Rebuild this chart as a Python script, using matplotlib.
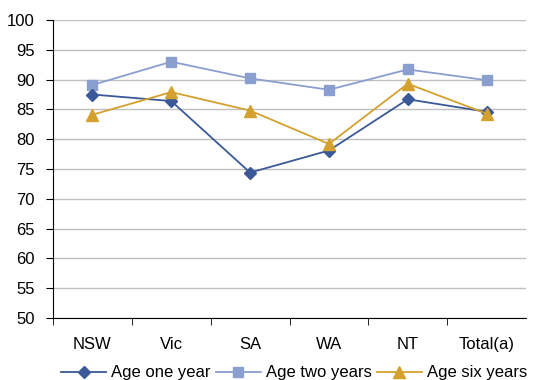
import matplotlib
matplotlib.use("Agg")
import matplotlib.pyplot as plt

categories = ["NSW", "Vic", "SA", "WA", "NT", "Total(a)"]
age_one = [87.5, 86.4, 74.4, 78.1, 86.7, 84.6]
age_two = [89.1, 93.0, 90.2, 88.3, 91.7, 89.9]
age_six = [84.1, 87.9, 84.8, 79.2, 89.3, 84.3]
yticks = [50, 55, 60, 65, 70, 75, 80, 85, 90, 95, 100]

plt.rcParams['font.family'] = ['Liberation Sans', 'DejaVu Sans']

fig = plt.figure(figsize=(5.33, 3.8), dpi=100)
ax = fig.add_axes([53/533, 1-318/380, (526-53)/533, (318-20)/380])

x = list(range(len(categories)))
ax.plot(x, age_one, color='#3B5998', marker='D', markersize=6, lw=1.3, label='Age one year', zorder=4)
ax.plot(x, age_two, color='#8A9FCF', marker='s', markersize=7, lw=1.3, label='Age two years', zorder=3)
ax.plot(x, age_six, color='#D4A12E', marker='^', markersize=8, lw=1.3, label='Age six years', zorder=5)

ax.set_xlim(-0.5, len(categories)-0.5)
ax.set_ylim(50, 100)
ax.set_yticks(yticks)
ax.set_yticklabels([str(v) for v in yticks], fontsize=12)
ax.set_xticks(x)
ax.set_xticklabels(categories, fontsize=12)
ax.set_xticks([i-0.5 for i in range(len(categories))], minor=True)
ax.tick_params(axis='x', which='major', length=0, pad=14)
ax.tick_params(axis='x', which='minor', length=5, color='black')
ax.tick_params(axis='y', length=5, color='black', pad=8)
ax.grid(axis='y', color='#C0C0C0', lw=1)
ax.set_axisbelow(True)
for s in ['top', 'right']:
    ax.spines[s].set_visible(False)
ax.spines['left'].set_color('black')
ax.spines['bottom'].set_color('black')

leg = fig.legend(loc='center', bbox_to_anchor=(294/533, 1-373/380), ncol=3, frameon=False,
                 fontsize=12, handlelength=2.7, columnspacing=0.3, handletextpad=0.3)

fig.savefig('out.png', dpi=100)
